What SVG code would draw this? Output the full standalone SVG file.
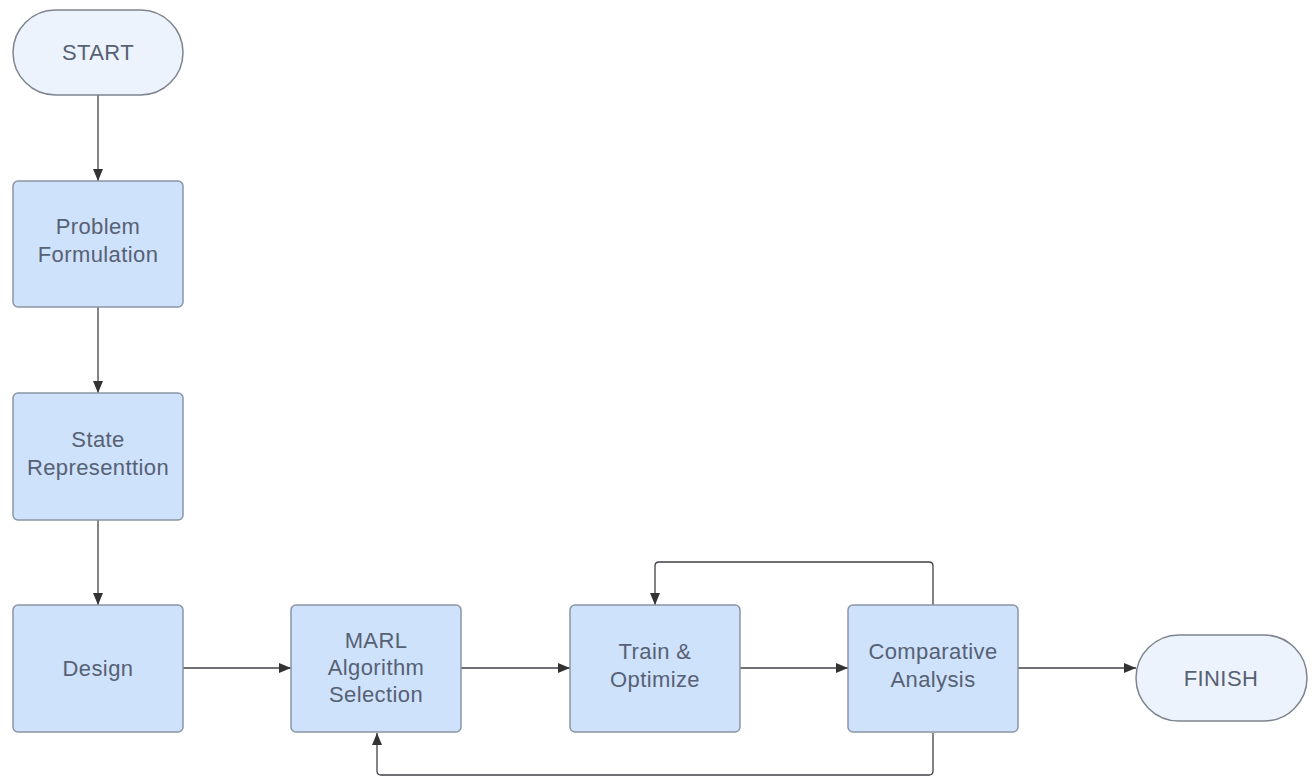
<svg xmlns="http://www.w3.org/2000/svg" width="1312" height="778" viewBox="0 0 1312 778">
<defs>
<style>
.box{fill:#cfe2fc;stroke:#8a95a5;stroke-width:1.5}
.term{fill:#edf3fc;stroke:#7d848e;stroke-width:1.5}
.t{font-family:"Liberation Sans",Arial,sans-serif;font-size:22px;letter-spacing:0.4px;fill:#566174;text-anchor:middle}
.c{fill:none;stroke:#3f4247;stroke-width:1.3}
</style>
<marker id="ah" viewBox="0 0 12 10" refX="12" refY="5" markerWidth="12" markerHeight="10" markerUnits="userSpaceOnUse" orient="auto">
<path d="M0,0 L12,5 L0,10 z" fill="#333"/>
</marker>
</defs>
<rect width="1312" height="778" fill="#fff"/>
<g id="connectors">
<path class="c" d="M98,95 V181" marker-end="url(#ah)"/>
<path class="c" d="M98,307 V393" marker-end="url(#ah)"/>
<path class="c" d="M98,520 V605" marker-end="url(#ah)"/>
<path class="c" d="M183,668 H291" marker-end="url(#ah)"/>
<path class="c" d="M461,668 H570" marker-end="url(#ah)"/>
<path class="c" d="M740,668 H848" marker-end="url(#ah)"/>
<path class="c" d="M1018,668 H1136" marker-end="url(#ah)"/>
<path class="c" d="M933,605 V566 Q933,562 929,562 H659 Q655,562 655,566 V605" marker-end="url(#ah)"/>
<path class="c" d="M933,733 V771 Q933,775 929,775 H381 Q377,775 377,771 V733" marker-end="url(#ah)"/>
</g>
<g id="start"><rect class="term" x="13" y="10" width="170" height="85" rx="42.5"/><text class="t" x="98" y="60">START</text></g>
<g id="problem"><rect class="box" x="13" y="181" width="170" height="126" rx="5"/><text class="t" x="98" y="234">Problem</text><text class="t" x="98" y="262">Formulation</text></g>
<g id="state"><rect class="box" x="13" y="393" width="170" height="127" rx="5"/><text class="t" x="98" y="447">State</text><text class="t" x="98" y="475">Representtion</text></g>
<g id="design"><rect class="box" x="13" y="605" width="170" height="127" rx="5"/><text class="t" x="98" y="676">Design</text></g>
<g id="marl"><rect class="box" x="291" y="605" width="170" height="127" rx="5"/><text class="t" x="376" y="648">MARL</text><text class="t" x="376" y="675">Algorithm</text><text class="t" x="376" y="702">Selection</text></g>
<g id="train"><rect class="box" x="570" y="605" width="170" height="127" rx="5"/><text class="t" x="655" y="659">Train &amp;</text><text class="t" x="655" y="687">Optimize</text></g>
<g id="comparative"><rect class="box" x="848" y="605" width="170" height="127" rx="5"/><text class="t" x="933" y="659">Comparative</text><text class="t" x="933" y="687">Analysis</text></g>
<g id="finish"><rect class="term" x="1136" y="635" width="171" height="86" rx="43"/><text class="t" x="1221" y="686">FINISH</text></g>
</svg>
